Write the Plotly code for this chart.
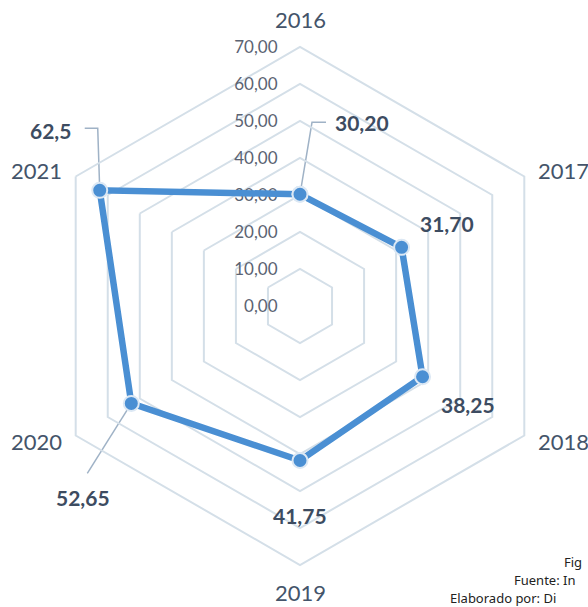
import math

import plotly.graph_objects as go

years = ["2016", "2017", "2018", "2019", "2020", "2021"]
values = [30.20, 31.70, 38.25, 41.75, 52.65, 62.5]
value_labels = ["30,20", "31,70", "38,25", "41,75", "52,65", "62,5"]
radial_ticks = [0, 10, 20, 30, 40, 50, 60, 70]
# only the parts of the source note that are visible in the cropped picture
footnotes = ["Fig", "Fuente: In", "Elaborado por: Di"]

W, H = 588, 607
CX, CY, RADIUS = 300, 306, 259
R_MAX = 70

LINE_BLUE = "#4a8fd3"
GRID = "#d4dfe8"
TEXT = "#44546a"

# pixel offsets of each value label (centre) from its marker, and elbow leaders
label_offsets = [(62, -72), (45, -24), (45, 28), (0, 55), (-48, 94), (-49, -60)]
leaders = {
    0: [(0, 0), (12, -72), (26, -72)],
    4: [(0, 0), (-44, 70)],
    5: [(0, 0), (-2, -62), (-15, -62)],
}


def _angle(i: int) -> float:
    return math.radians(90 - 360 / len(years) * i)


def _to_px(r: float, i: int) -> tuple[float, float]:
    scale = RADIUS * r / R_MAX
    a = _angle(i)
    return CX + scale * math.cos(a), CY - scale * math.sin(a)


def _paper(px: float, py: float) -> tuple[float, float]:
    return px / W, 1 - py / H


fig = go.Figure()
fig.add_trace(
    go.Scatterpolar(
        r=values + values[:1],
        theta=years + years[:1],
        mode="lines+markers",
        line={"color": LINE_BLUE, "width": 6.5},
        marker={"size": 15, "color": LINE_BLUE, "line": {"color": "#dce8f4", "width": 2}},
        showlegend=False,
        hoverinfo="skip",
    )
)

annotations = []
shapes = []

# category labels just outside the outer hexagon
for i, year in enumerate(years):
    a = _angle(i)
    vx, vy = _to_px(R_MAX, i)
    c, s = math.cos(a), math.sin(a)
    if abs(c) < 0.1:
        xa, ya = "center", ("bottom" if s > 0 else "top")
        px, py = vx, vy - s * 12
    else:
        xa, ya = ("left" if c > 0 else "right"), "middle"
        px, py = vx + c * 13, vy - s * 12
    x, y = _paper(px, py)
    annotations.append(
        dict(
            x=x, y=y, xref="paper", yref="paper", text=year, showarrow=False,
            xanchor=xa, yanchor=ya, font={"size": 22, "color": TEXT, "family": "Lato"},
        )
    )

# value labels
for i, (v, lab) in enumerate(zip(values, value_labels)):
    mx, my = _to_px(v, i)
    dx, dy = label_offsets[i]
    x, y = _paper(mx + dx, my + dy)
    annotations.append(
        dict(
            x=x, y=y, xref="paper", yref="paper", text=f"<b>{lab}</b>", showarrow=False,
            xanchor="center", yanchor="middle", font={"size": 21, "color": "#3d4c61", "family": "Lato"},
        )
    )
    if i in leaders:
        pts = [_paper(mx + ox, my + oy) for ox, oy in leaders[i]]
        path = "M " + " L ".join(f"{px:.5f},{py:.5f}" for px, py in pts)
        shapes.append(
            dict(type="path", path=path, xref="paper", yref="paper", layer="below",
                 line={"color": "#9fb2c6", "width": 1.5})
        )

# footnote in the bottom-right corner
foot_pos = [(563, 562), (513, 580), (449, 598)]
for text, (px, py) in zip(footnotes, foot_pos):
    x, y = _paper(px, py)
    annotations.append(
        dict(
            x=x, y=y, xref="paper", yref="paper", text=text, showarrow=False,
            xanchor="left", yanchor="middle", borderpad=0,
            font={"size": 13, "color": "#222222", "family": "Noto Sans"},
        )
    )

fig.update_layout(
    width=W,
    height=H,
    margin={"l": 0, "r": 0, "t": 0, "b": 0},
    paper_bgcolor="#ffffff",
    plot_bgcolor="#ffffff",
    separators=",.",
    polar={
        "domain": {
            "x": [(CX - RADIUS) / W, (CX + RADIUS) / W],
            "y": [1 - (CY + RADIUS) / H, 1 - (CY - RADIUS) / H],
        },
        "bgcolor": "rgba(0,0,0,0)",
        "gridshape": "linear",
        "radialaxis": {
            "range": [0, R_MAX],
            "tickvals": radial_ticks,
            "tickformat": ".2f",
            "angle": 90,
            "tickangle": 90,
            "side": "counterclockwise",
            "showline": False,
            "ticks": "outside",
            "ticklen": 16,
            "tickcolor": "rgba(0,0,0,0)",
            "gridcolor": GRID,
            "gridwidth": 2,
            "layer": "below traces",
            "tickfont": {"size": 17, "color": "#5b6372", "family": "Lato"},
        },
        "angularaxis": {
            "direction": "clockwise",
            "rotation": 90,
            "showgrid": False,
            "showticklabels": False,
            "ticks": "",
            "linecolor": GRID,
            "linewidth": 2,
            "layer": "below traces",
        },
    },
    annotations=annotations,
    shapes=shapes,
)

fig.write_html(
    "out.html",
    config={"displayModeBar": False},
    post_script="document.body.style.margin='0';document.body.style.overflow='hidden';",
)
